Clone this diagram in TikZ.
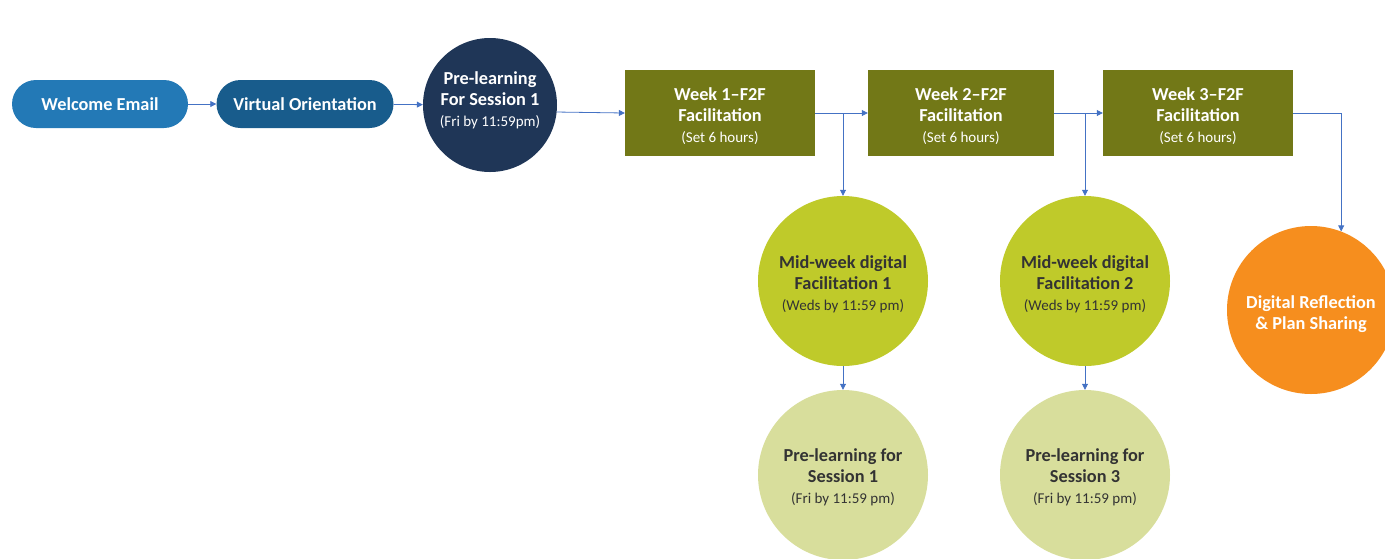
\documentclass[tikz,border=0pt]{standalone}
\usepackage{fontspec}
\setmainfont{Carlito}
\usetikzlibrary{arrows.meta,positioning}
\definecolor{welcomeblue}{HTML}{2379B6}
\definecolor{orientblue}{HTML}{185C8C}
\definecolor{navy}{HTML}{1F3657}
\definecolor{olive}{HTML}{727817}
\definecolor{lime}{HTML}{BFCA2A}
\definecolor{palelime}{HTML}{D8DE9C}
\definecolor{orange}{HTML}{F68E1E}
\definecolor{linkblue}{HTML}{4472C4}
\definecolor{darktext}{HTML}{333333}
\newcommand{\headtxt}{\fontsize{18.3}{21}\selectfont\bfseries}
\newcommand{\subtxt}{\fontsize{15}{21}\selectfont\mdseries}
\tikzset{
  pill/.style={draw=none, rounded corners=24pt, minimum width=176pt, minimum height=48pt,
    text=white, font=\headtxt, inner sep=0pt},
  wkbox/.style={draw=none, fill=olive, minimum width=190pt, minimum height=86pt, inner sep=0pt},
  disc/.style={circle, draw=none, inner sep=0pt},
  caption/.style={align=center, font=\headtxt, inner sep=0pt},
  link/.style={draw=linkblue, line width=0.8pt, -{Triangle[length=6pt,width=6pt]}},
}
\begin{document}
\begin{tikzpicture}[x=1pt,y=-1pt]
\useasboundingbox (0,0) rectangle (1385,558);
\begin{scope}
\clip (0,0) rectangle (1385,558);
% onboarding steps
\node[pill, fill=welcomeblue] (welcome) at (100,104) {Welcome Email};
\node[pill, fill=orientblue, minimum width=177pt] (orient) at (305,104) {Virtual Orientation};
\node[disc, fill=navy, minimum size=134pt] (pre) at (490,105) {};
\node[caption, text=white] (pre-t) at ([yshift=5pt]pre.center)
  {Pre-learning\\For Session 1\\{\subtxt (Fri by 11:59pm)}};
% weekly face-to-face sessions
\node[wkbox] (w1) at (720,113) {};
\node[wkbox, minimum width=186pt] (w2) at (961,113) {};
\node[wkbox] (w3) at (1198,113) {};
\node[caption, text=white] (w1-t) at ([yshift=-3pt]w1.center) {Week 1--F2F\\Facilitation\\{\subtxt (Set 6 hours)}};
\node[caption, text=white] (w2-t) at ([yshift=-3pt]w2.center) {Week 2--F2F\\Facilitation\\{\subtxt (Set 6 hours)}};
\node[caption, text=white] (w3-t) at ([yshift=-3pt]w3.center) {Week 3--F2F\\Facilitation\\{\subtxt (Set 6 hours)}};
% mid-week digital work
\node[disc, fill=lime, minimum size=170pt] (mid1) at (843,281) {};
\node[disc, fill=lime, minimum size=170pt] (mid2) at (1085,281) {};
\node[caption, text=darktext] (mid1-t) at ([yshift=-3pt]mid1.center)
  {Mid-week digital\\Facilitation 1\\{\subtxt (Weds by 11:59 pm)}};
\node[caption, text=darktext] (mid2-t) at ([yshift=-3pt]mid2.center)
  {Mid-week digital\\Facilitation 2\\{\subtxt (Weds by 11:59 pm)}};
% pre-learning for the following sessions
\node[disc, fill=palelime, minimum size=170pt] (pl1) at (843,475) {};
\node[disc, fill=palelime, minimum size=170pt] (pl3) at (1085,475) {};
\node[caption, text=darktext] (pl1-t) at ([yshift=-2pt]pl1.center)
  {Pre-learning for\\Session 1\\{\subtxt (Fri by 11:59 pm)}};
\node[caption, text=darktext] (pl3-t) at ([yshift=-2pt]pl3.center)
  {Pre-learning for\\Session 3\\{\subtxt (Fri by 11:59 pm)}};
% closing activity
\node[disc, fill=orange, minimum size=168pt] (dig) at (1311,310) {};
\node[caption, text=white] (dig-t) at ([yshift=-4pt]dig.center)
  {Digital Reflection\\\& Plan Sharing};
\end{scope}
% connectors
\draw[link] (welcome) -- (orient);
\draw[link] (orient) -- (pre);
\draw[link] (pre.-6) -- (w1.west);
\draw[link] (w1) -- (w2);
\draw[link] (w2) -- (w3);
\draw[link] (w1.east -| mid1.north) -- (mid1.north);
\draw[link] (w2.east -| mid2.north) -- (mid2.north);
\draw[link] (mid1) -- (pl1);
\draw[link] (mid2) -- (pl3);
\draw[link] (w3.east) -| (dig.69);
\end{tikzpicture}
\end{document}
